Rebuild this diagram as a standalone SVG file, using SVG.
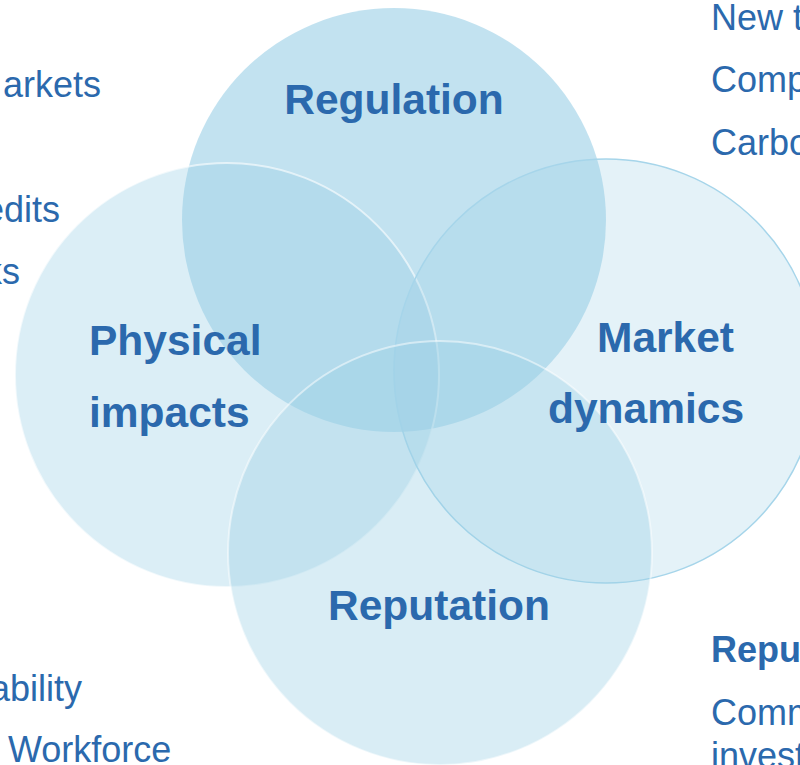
<svg xmlns="http://www.w3.org/2000/svg" width="800" height="765" viewBox="0 0 800 765">
<style>
.c{fill:#9bcfe6}
.lbl{font-family:"Liberation Sans",Arial,sans-serif;font-weight:bold;font-size:42.5px;fill:#2b69ad}
.side{font-family:"Liberation Sans",Arial,sans-serif;font-size:36px;fill:#2b69ad}
.sideb{font-family:"Liberation Sans",Arial,sans-serif;font-size:36px;font-weight:bold;fill:#2b69ad}
</style>
<rect width="800" height="765" fill="#ffffff"/>
<g id="regulation">
<circle class="c" cx="394" cy="220" r="212" fill-opacity="0.61"/>
<text class="lbl" x="394" y="114" text-anchor="middle">Regulation</text>
</g>
<g id="physical-impacts">
<circle class="c" cx="227" cy="375" r="212" fill-opacity="0.36" stroke="#ffffff" stroke-opacity="0.6" stroke-width="2"/>
</g>
<g id="market-dynamics">
<circle class="c" cx="606" cy="371" r="212" fill-opacity="0.27" stroke="#a6d5ea" stroke-width="1.5"/>
</g>
<g id="reputation">
<circle class="c" cx="440" cy="553" r="212" fill-opacity="0.38" stroke="#ffffff" stroke-opacity="0.5" stroke-width="2"/>
</g>
<g id="labels">
<text class="lbl" x="89" y="355">Physical</text>
<text class="lbl" x="89" y="427">impacts</text>
<text class="lbl" x="597" y="352">Market</text>
<text class="lbl" x="548" y="423">dynamics</text>
<text class="lbl" x="439" y="620" text-anchor="middle">Reputation</text>
</g>
<g id="side-text">
<text class="side" x="101" y="97" text-anchor="end">arkets</text>
<text class="side" x="60" y="222" text-anchor="end">edits</text>
<text class="side" x="20" y="284" text-anchor="end">ks</text>
<text class="side" x="82" y="701" text-anchor="end">ability</text>
<text class="side" x="8" y="762">Workforce</text>
<text class="side" x="711" y="30">New t</text>
<text class="side" x="711" y="92">Comp</text>
<text class="side" x="711" y="155">Carbo</text>
<text class="sideb" x="711" y="662">Repu</text>
<text class="side" x="711" y="725">Comm</text>
<text class="side" x="711" y="768">invest</text>
</g>
<g id="connectors"></g>
</svg>
